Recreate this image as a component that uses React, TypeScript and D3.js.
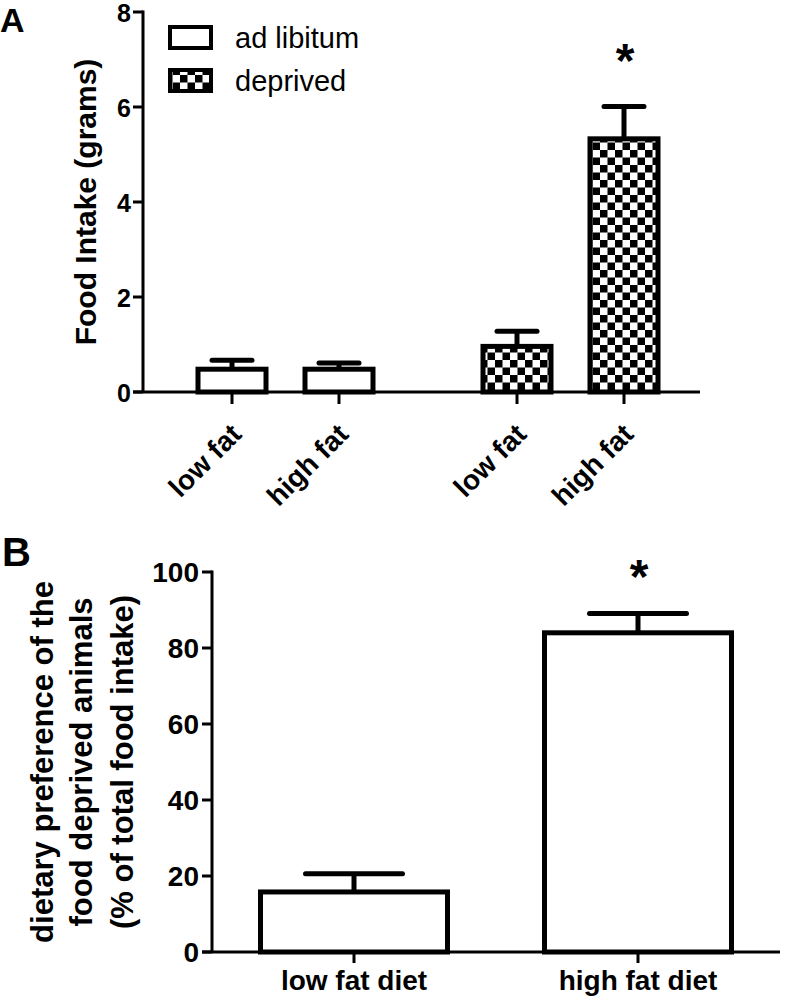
import React from "react";
import * as d3 from "d3";

// Panel A data
const groupsA = ["ad libitum", "deprived"];
const dietsA = ["low fat", "high fat"];
const meansA = [
  [0.48, 0.48], // ad libitum: low fat, high fat
  [0.96, 5.33], // deprived: low fat, high fat
];
const semA = [
  [0.19, 0.13],
  [0.32, 0.68],
];
const sigA = [
  [false, false],
  [false, true],
];
const ticksA = [0, 2, 4, 6, 8];

// Panel B data
const catsB = ["low fat diet", "high fat diet"];
const meansB = [15.8, 84.0];
const semB = [4.8, 5.1];
const sigB = [false, true];
const ticksB = [0, 20, 40, 60, 80, 100];

const FONT = "'Liberation Sans', Arial, Helvetica, sans-serif";

export default function App() {
  // Panel A scales
  const yA = d3.scaleLinear().domain([0, 8]).range([392, 12]);
  const gA = d3.scalePoint().domain(groupsA).range([285.5, 570.5]);
  const dA = d3.scalePoint().domain(dietsA).range([-53.5, 53.5]);
  const axisXA = 143;
  const barWA = 68;
  const capWA = 40;

  // Panel B scales
  const yB = d3.scaleLinear().domain([0, 100]).range([952, 572]);
  const xB = d3.scalePoint().domain(catsB).range([354, 638]);
  const axisXB = 212;
  const barWB = 187;
  const capWB = 97;

  const sw = 5;

  return (
    <svg width={787} height={997} style={{ position: "absolute", left: 0, top: 0, background: "#fff" }} fontFamily={FONT}>
      <defs>
        <pattern id="checker" width={15} height={15} patternUnits="userSpaceOnUse" x={0} y={0}>
          <rect width={15} height={15} fill="#fff" />
          <rect x={0} y={0} width={7.5} height={7.5} fill="#000" />
          <rect x={7.5} y={7.5} width={7.5} height={7.5} fill="#000" />
        </pattern>
      </defs>
      <rect width={787} height={997} fill="#fff" />

      {/* ===== Panel A ===== */}
      <text x={0} y={32} fontSize={34} fontWeight="bold">A</text>

      {/* y axis */}
      <line x1={axisXA} x2={axisXA} y1={yA(8) - 1.5} y2={yA(0)} stroke="#000" strokeWidth={3} />
      {ticksA.map((t) => (
        <g key={t}>
          <line x1={axisXA - 10} x2={axisXA} y1={yA(t)} y2={yA(t)} stroke="#000" strokeWidth={3} />
          <text x={axisXA - 12} y={yA(t)} dy="0.38em" textAnchor="end" fontSize={25} fontWeight="bold">{t}</text>
        </g>
      ))}
      {/* x axis */}
      <line x1={axisXA - 10} x2={700} y1={yA(0)} y2={yA(0)} stroke="#000" strokeWidth={3} />

      <text transform={`translate(${85},${(yA(0) + yA(8)) / 2}) rotate(-90)`} textAnchor="middle" dy="0.36em" fontSize={30} fontWeight="bold">
        Food Intake (grams)
      </text>

      {groupsA.map((g, gi) =>
        dietsA.map((dd, di) => {
          const cx = (gA(g) as number) + (dA(dd) as number);
          const m = meansA[gi][di];
          const e = semA[gi][di];
          const top = yA(m);
          const fill = gi === 0 ? "#fff" : "url(#checker)";
          return (
            <g key={g + dd}>
              <line x1={cx} x2={cx} y1={top} y2={yA(m + e)} stroke="#000" strokeWidth={sw} />
              <line x1={cx - capWA / 2} x2={cx + capWA / 2} y1={yA(m + e)} y2={yA(m + e)} stroke="#000" strokeWidth={sw} strokeLinecap="round" />
              <rect x={cx - barWA / 2} y={top} width={barWA} height={yA(0) - top} fill={fill} stroke="#000" strokeWidth={sw} />
              <line x1={cx} x2={cx} y1={yA(0)} y2={yA(0) + 12} stroke="#000" strokeWidth={3} />
              <text transform={`translate(${cx + 11},${436}) rotate(-45)`} textAnchor="end" fontSize={28} fontWeight="bold">
                {dd}
              </text>
              {sigA[gi][di] && (
                <text x={cx + 1} y={yA(m + e) - 30} textAnchor="middle" fontSize={48} fontWeight="bold">*</text>
              )}
            </g>
          );
        })
      )}

      {/* Legend */}
      {groupsA.map((g, gi) => (
        <g key={g}>
          <rect x={170} y={27 + gi * 43} width={41} height={21} fill={gi === 0 ? "#fff" : "url(#checker)"} stroke="#000" strokeWidth={4} />
          <text x={235} y={48 + gi * 43} fontSize={29}>{g}</text>
        </g>
      ))}

      {/* ===== Panel B ===== */}
      <text x={2} y={566} fontSize={40} fontWeight="bold">B</text>

      <line x1={axisXB} x2={axisXB} y1={yB(100) - 1.5} y2={yB(0)} stroke="#000" strokeWidth={3} />
      {ticksB.map((t) => (
        <g key={t}>
          <line x1={axisXB - 10} x2={axisXB} y1={yB(t)} y2={yB(t)} stroke="#000" strokeWidth={3} />
          <text x={axisXB - 13} y={yB(t)} dy="0.36em" textAnchor="end" fontSize={28} fontWeight="bold">{t}</text>
        </g>
      ))}
      <line x1={axisXB - 10} x2={780} y1={yB(0)} y2={yB(0)} stroke="#000" strokeWidth={3} />

      <text transform={`translate(${42},${(yB(0) + yB(100)) / 2}) rotate(-90)`} textAnchor="middle" dy="0.36em" fontSize={31} fontWeight="bold">
        dietary preference of the
      </text>
      <text transform={`translate(${81},${(yB(0) + yB(100)) / 2}) rotate(-90)`} textAnchor="middle" dy="0.36em" fontSize={31} fontWeight="bold">
        food deprived animals
      </text>
      <text transform={`translate(${122},${(yB(0) + yB(100)) / 2}) rotate(-90)`} textAnchor="middle" dy="0.36em" fontSize={31} fontWeight="bold">
        (% of total food intake)
      </text>

      {catsB.map((c, i) => {
        const cx = xB(c) as number;
        const m = meansB[i];
        const e = semB[i];
        const top = yB(m);
        return (
          <g key={c}>
            <line x1={cx} x2={cx} y1={top} y2={yB(m + e)} stroke="#000" strokeWidth={sw} />
            <line x1={cx - capWB / 2} x2={cx + capWB / 2} y1={yB(m + e)} y2={yB(m + e)} stroke="#000" strokeWidth={sw} strokeLinecap="round" />
            <rect x={cx - barWB / 2} y={top} width={barWB} height={yB(0) - top} fill="#fff" stroke="#000" strokeWidth={sw} />
            <line x1={cx} x2={cx} y1={yB(0)} y2={yB(0) + 11} stroke="#000" strokeWidth={3} />
            <text x={cx} y={990} textAnchor="middle" fontSize={28} fontWeight="bold">{c}</text>
            {sigB[i] && (
              <text x={cx + 1} y={yB(m + e) - 20} textAnchor="middle" fontSize={48} fontWeight="bold">*</text>
            )}
          </g>
        );
      })}
    </svg>
  );
}
